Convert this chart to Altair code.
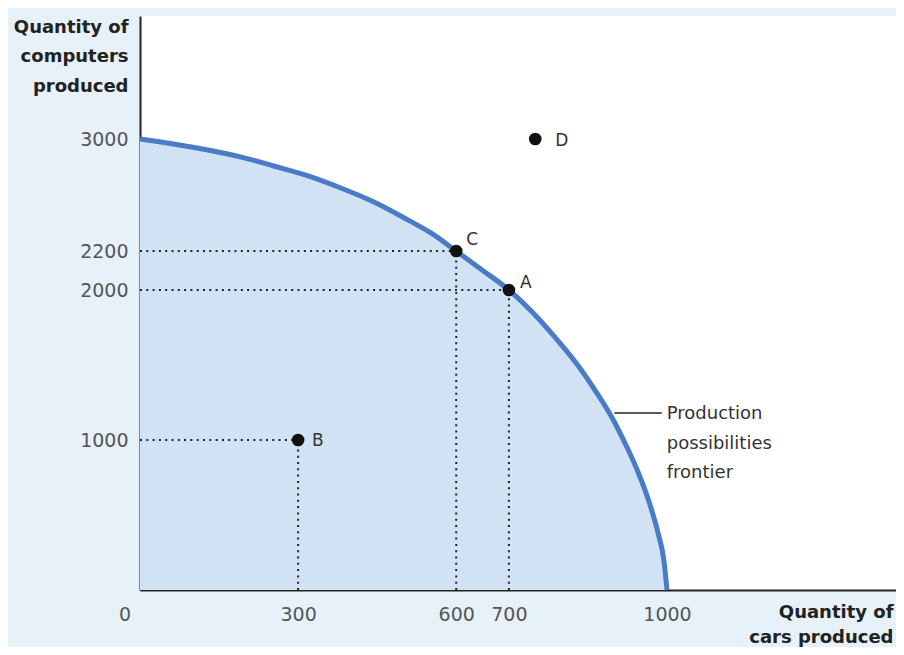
import altair as alt
import pandas as pd

# Production possibilities frontier
curve_cars = [0, 63, 129, 192, 254, 319, 381, 444, 505, 552, 600, 649, 700, 746, 787, 829,
              867, 896, 922, 945, 966, 983, 994, 1000]
curve_computers = [3000, 2964, 2921, 2871, 2807, 2736, 2650, 2550, 2429, 2329, 2200, 2103, 2000,
                   1847, 1687, 1507, 1313, 1147, 967, 787, 587, 380, 200, 0]

# Labelled points
point_labels = ["A", "B", "C", "D"]
point_cars = [700, 300, 600, 750]
point_computers = [2000, 1000, 2200, 3000]

x_ticks = [300, 600, 700, 1000]
y_ticks = [1000, 2000, 2200, 3000]

annot_text = ["Production", "possibilities", "frontier"]
annot_x = [900, 990]
annot_y = 1180

curve = pd.DataFrame({"x": curve_cars, "y": curve_computers})
pts = pd.DataFrame({"label": point_labels, "x": point_cars, "y": point_computers})
guides = pts[pts["label"] != "D"].copy()
guides["x0"] = 0
guides["y0"] = 0

FONT = "DejaVu Sans"
xscale = alt.Scale(domain=[0, 1434.5], range=[0, 756], nice=False, zero=False)
# the original figure is not drawn to scale on the vertical axis -> piecewise scale
yscale = alt.Scale(domain=[0, 1000, 2000, 2200, 3000, 3850],
                   range=[574, 424, 274, 235, 123, 0], nice=False, zero=False)

x_axis = alt.Axis(values=x_ticks, format="d", title=["Quantity of", "cars produced"], grid=False, ticks=False,
                  labelPadding=15, labelFont=FONT, labelFontSize=19, labelColor="#555",
                  domainColor="#222", domainWidth=2,
                  titleFont=FONT, titleFontSize=18, titleFontWeight="bold", titleColor="#222",
                  titleAlign="right", titleAnchor="end", titleBaseline="alphabetic",
                  titleX=753, titleY=27, titleLineHeight=25, labelFlush=False)
y_axis = alt.Axis(values=y_ticks, format="d", title=["Quantity of", "computers", "produced"], grid=False, ticks=False,
                  labelPadding=12, labelFont=FONT, labelFontSize=19, labelColor="#555",
                  domainColor="#222", domainWidth=2,
                  titleFont=FONT, titleFontSize=18, titleFontWeight="bold", titleColor="#222",
                  titleAngle=0, titleAlign="right", titleBaseline="alphabetic",
                  titleX=-12, titleY=16, titleLineHeight=29.5)

X = alt.X("x:Q", scale=xscale, axis=x_axis)
Y = alt.Y("y:Q", scale=yscale, axis=y_axis)

area = alt.Chart(curve).mark_area(color="#d0e2f3", interpolate="monotone").encode(x=X, y=Y)
line = alt.Chart(curve).mark_line(color="#4a7bc8", strokeWidth=5, interpolate="monotone").encode(x=X, y=Y)

hrules = alt.Chart(guides).mark_rule(color="#222", strokeWidth=2, strokeDash=[2, 4.3]).encode(
    x=alt.X("x0:Q", scale=xscale), x2="x:Q", y=alt.Y("y:Q", scale=yscale))
vrules = alt.Chart(guides).mark_rule(color="#222", strokeWidth=2, strokeDash=[2, 4.3]).encode(
    x=alt.X("x:Q", scale=xscale), y=alt.Y("y0:Q", scale=yscale), y2="y:Q")

dots = alt.Chart(pts).mark_circle(color="#111", opacity=1, size=160).encode(
    x=alt.X("x:Q", scale=xscale), y=alt.Y("y:Q", scale=yscale))

offsets = {"A": (11, -7), "B": (14, 1), "C": (10, -11), "D": (20, 2)}
label_layers = []
for lab, (dx, dy) in offsets.items():
    label_layers.append(
        alt.Chart(pts).transform_filter(alt.datum.label == lab).mark_text(
            align="left", baseline="middle", dx=dx, dy=dy, font=FONT, fontSize=17, color="#333"
        ).encode(x=alt.X("x:Q", scale=xscale), y=alt.Y("y:Q", scale=yscale), text="label:N"))

leader = alt.Chart(pd.DataFrame({"x": [annot_x[0]], "x2": [annot_x[1]], "y": [annot_y]})).mark_rule(
    color="#222", strokeWidth=1.5).encode(x=alt.X("x:Q", scale=xscale), x2="x2:Q", y=alt.Y("y:Q", scale=yscale))

annot = alt.Chart(pd.DataFrame({"x": [annot_x[1]], "y": [annot_y]})).mark_text(
    align="left", baseline="alphabetic", dx=5, dy=6, lineHeight=29.5, font=FONT, fontSize=18, color="#333"
).encode(x=alt.X("x:Q", scale=xscale), y=alt.Y("y:Q", scale=yscale), text=alt.value(annot_text))

origin = alt.Chart(pd.DataFrame({"x": [0], "y": [0], "t": ["0"]})).mark_text(
    align="center", baseline="middle", dx=-15, dy=25, font=FONT, fontSize=19, color="#555"
).encode(x=alt.X("x:Q", scale=xscale), y=alt.Y("y:Q", scale=yscale), text="t:N")

chart = alt.layer(area, hrules, vrules, line, dots, *label_layers, leader, annot, origin).properties(
    width=756, height=574,
    padding={"left": 132, "top": 8, "right": 0, "bottom": 57},
    autosize=alt.AutoSizeParams(type="none"),
    background="#e6f1f9",
).configure_view(stroke=None, fill="white")

chart.save("out.html", embed_options={"renderer": "svg", "actions": False})
